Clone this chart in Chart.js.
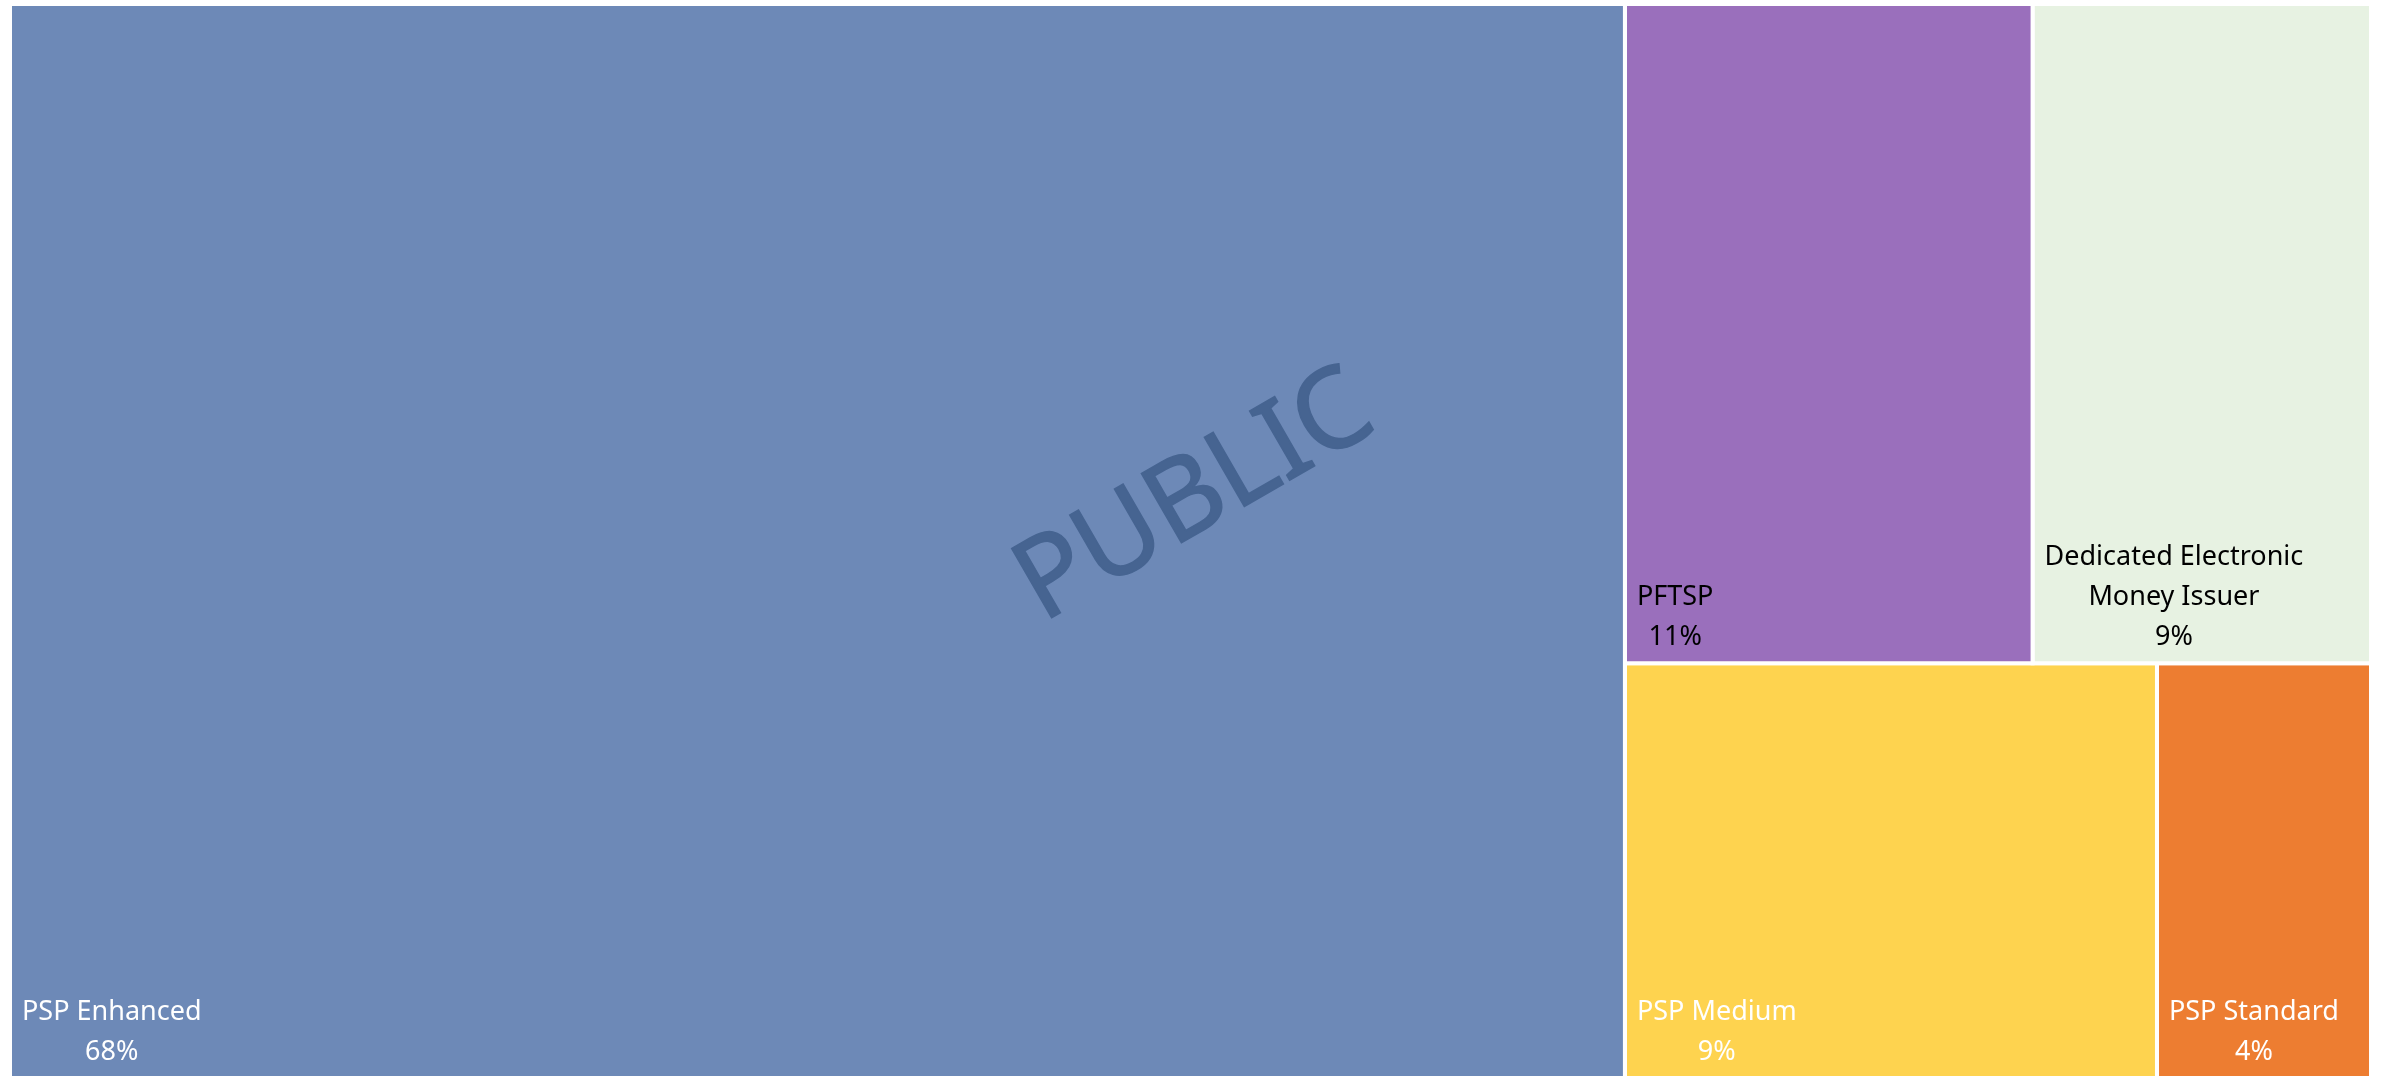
<!DOCTYPE html>
<html>
<head>
<meta charset="utf-8">
<title>Treemap</title>
<script src="https://cdn.jsdelivr.net/npm/chart.js@4.4.1/dist/chart.umd.min.js"></script>
<style>
   html, body { margin: 0; padding: 0; background: #ffffff; }
   #chart-wrap { width: 2381px; height: 1081px; }
</style>
</head>
<body>
<div id="chart-wrap"><canvas id="treemapChart" width="2381" height="1081"></canvas></div>
<script>
/*** REGION 1 - data */
var gCategories = ["PSP Enhanced", "PFTSP", "Dedicated Electronic Money Issuer", "PSP Medium", "PSP Standard"];
var gValues = [68.4, 10.6, 8.8, 8.7, 3.5];
var gFillColors = ["#6d89b7", "#9a6fbc", "#e7f2e2", "#fed34f", "#ed7d31"];
var gTextColors = ["#ffffff", "#000000", "#000000", "#ffffff", "#ffffff"];
var gWatermark = "PUBLIC";

var gPadding = { left: 10, right: 10, top: 4, bottom: 3 };
var gFont = '"Noto Sans", "Open Sans", sans-serif';

// width/height of the plot area, so the squarify layout sees the real proportions
var gCanvas = document.getElementById("treemapChart");
var gAspect = (gCanvas.width - gPadding.left - gPadding.right) / (gCanvas.height - gPadding.top - gPadding.bottom);

/*** REGION 2 - squarified layout (in data units: x 0..gAspect, y 0..1) */
function sumOf(paramArr) {
   return paramArr.reduce(function (a, b) { return a + b; }, 0);
}

function worstRatio(paramRow, paramSide) {
   var vSum = sumOf(paramRow);
   var vMax = Math.max.apply(null, paramRow);
   var vMin = Math.min.apply(null, paramRow);
   return Math.max((paramSide * paramSide * vMax) / (vSum * vSum), (vSum * vSum) / (paramSide * paramSide * vMin));
}

function squarify(paramValues, x, y, w, h) {
   var vRects = [];
   var vTotal = sumOf(paramValues);
   var vAreas = paramValues.map(function (v) { return (v * w * h) / vTotal; });
   var i = 0;
   while (i < vAreas.length) {
      var vSide = Math.min(w, h);
      var vRow = [vAreas[i]];
      var j = i + 1;
      while (j < vAreas.length && worstRatio(vRow.concat(vAreas[j]), vSide) <= worstRatio(vRow, vSide)) {
         vRow.push(vAreas[j]);
         j++;
      }
      var vRowSum = sumOf(vRow);
      if (w >= h) {
         // column on the left
         var vColW = vRowSum / h;
         var cy = y;
         vRow.forEach(function (a) {
            var rh = a / vColW;
            vRects.push({ x0: x, x1: x + vColW, y0: cy, y1: cy + rh });
            cy += rh;
         });
         x += vColW;
         w -= vColW;
      } else {
         // row on top
         var vRowH = vRowSum / w;
         var cx = x;
         vRow.forEach(function (a) {
            var rw = a / vRowH;
            vRects.push({ x0: cx, x1: cx + rw, y0: y, y1: y + vRowH });
            cx += rw;
         });
         y += vRowH;
         h -= vRowH;
      }
      i = j;
   }
   return vRects;
}

var gCells = squarify(gValues, 0, 0, gAspect, 1);
var gTotal = sumOf(gValues);

// each cell is a closed line dataset filled as a shape
var gDatasets = gCells.map(function (c, i) {
   return {
      label: gCategories[i],
      data: [
         { x: c.x0, y: c.y0 },
         { x: c.x1, y: c.y0 },
         { x: c.x1, y: c.y1 },
         { x: c.x0, y: c.y1 },
         { x: c.x0, y: c.y0 },
      ],
      backgroundColor: gFillColors[i],
      borderColor: "#ffffff",
      borderWidth: 4,
      borderJoinStyle: "miter",
      borderCapStyle: "square",
      pointRadius: 0,
      tension: 0,
      fill: "shape",
   };
});

/*** REGION 3 - plugin for watermark + cell labels */
function wrapText(ctx, paramText, paramMaxW) {
   var vWords = paramText.split(" ");
   var vLines = [];
   var vCur = "";
   vWords.forEach(function (w) {
      var vTry = vCur ? vCur + " " + w : w;
      if (ctx.measureText(vTry).width > paramMaxW && vCur) {
         vLines.push(vCur);
         vCur = w;
      } else {
         vCur = vTry;
      }
   });
   if (vCur) vLines.push(vCur);
   return vLines;
}

var gLabelPlugin = {
   id: "treemapLabels",
   afterDatasetsDraw: function (chart) {
      var ctx = chart.ctx;
      var xs = chart.scales.x;
      var ys = chart.scales.y;
      var area = chart.chartArea;

      ctx.save();
      // watermark
      ctx.font = "112px " + gFont;
      ctx.fillStyle = "#466491";
      ctx.strokeStyle = "#466491";
      ctx.lineWidth = 1.5;
      ctx.textAlign = "center";
      ctx.textBaseline = "middle";
      ctx.translate(area.left + area.width * 0.502, area.top + area.height * 0.46);
      ctx.rotate(-Math.PI / 6);
      ctx.fillText(gWatermark, 0, 0);
      ctx.strokeText(gWatermark, 0, 0);
      ctx.restore();

      ctx.save();
      ctx.font = "27px " + gFont;
      ctx.textBaseline = "alphabetic";
      ctx.textAlign = "center";
      var vLineH = 40;
      gCells.forEach(function (c, i) {
         var px0 = xs.getPixelForValue(c.x0);
         var px1 = xs.getPixelForValue(c.x1);
         var py1 = ys.getPixelForValue(c.y1);
         var vLines = wrapText(ctx, gCategories[i], px1 - px0 - 24);
         vLines.push(Math.round((gValues[i] / gTotal) * 100) + "%");
         var vBlockW = Math.max.apply(null, vLines.map(function (l) { return ctx.measureText(l).width; }));
         var vCenterX = px0 + 12 + vBlockW / 2;
         var vBase = py1 - 18 - (vLines.length - 1) * vLineH;
         ctx.fillStyle = gTextColors[i];
         vLines.forEach(function (l, k) {
            ctx.fillText(l, vCenterX, vBase + k * vLineH);
         });
      });
      ctx.restore();
   },
};

/*** REGION 4 - chart */
function drawChart() {
   new Chart(gCanvas.getContext("2d"), {
      type: "line",
      data: { datasets: gDatasets },
      options: {
         responsive: false,
         animation: false,
         devicePixelRatio: 1,
         layout: { padding: gPadding },
         plugins: {
            legend: { display: false },
            tooltip: { enabled: false },
         },
         scales: {
            x: { type: "linear", min: 0, max: gAspect, display: false },
            y: { type: "linear", min: 0, max: 1, reverse: true, display: false },
         },
      },
      plugins: [gLabelPlugin],
   });
}

if (document.fonts && document.fonts.load) {
   document.fonts.load("27px " + gFont).then(drawChart, drawChart);
} else {
   drawChart();
}
</script>
</body>
</html>
